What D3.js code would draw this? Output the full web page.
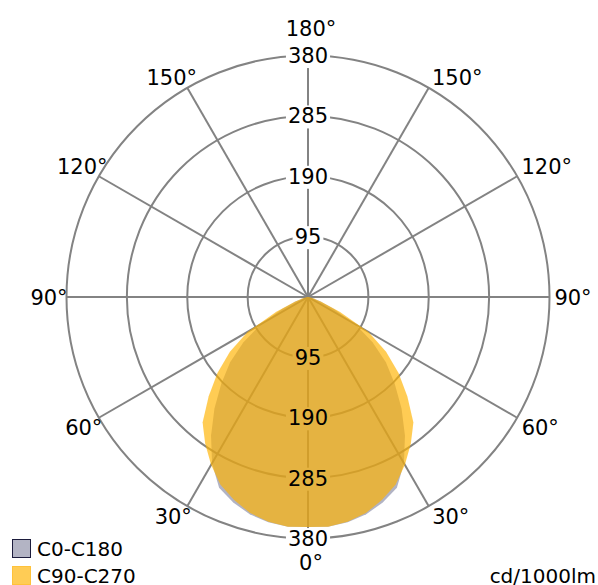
<!DOCTYPE html>
<html>
<head>
<meta charset="utf-8">
<script src="https://cdn.jsdelivr.net/npm/d3@7"></script>
<style>
body { margin: 0; background: #fff; }
text { font-family: "DejaVu Sans", sans-serif; font-size: 21px; fill: #000; }
text.small { font-size: 20px; }
</style>
</head>
<body>
<script>
// gamma angles (deg from nadir) and intensities in cd/1000lm
var gammas   = [0, 5, 10, 15, 20, 25, 30, 35, 40, 45, 50, 55, 60, 65, 70, 75, 80, 85, 90];
var c0c180   = [362, 363, 360, 354, 344, 331, 302, 266, 229, 193, 160, 124, 86, 45, 20, 8, 3, 1, 0];
var c90c270  = [362, 363, 359, 352, 340, 326, 305, 282, 258, 221, 186, 150, 110, 55, 22, 8, 3, 1, 0];
var ringValues  = [95, 190, 285, 380];
var angleLabels = [0, 30, 60, 90, 120, 150, 180];
var seriesNames = ["C0-C180", "C90-C270"];

var W = 598, H = 585;
var cx = 308, cy = 297, R = 241.5;

var svg = d3.select("body").append("svg")
  .attr("width", W)
  .attr("height", H);

var r = d3.scaleLinear().domain([0, 380]).range([0, R]);

var g = svg.append("g").attr("transform", "translate(" + cx + "," + cy + ")");

// rings
g.selectAll("circle.ring")
  .data(ringValues)
  .enter().append("circle")
  .attr("class", "ring")
  .attr("r", function(d) { return r(d); })
  .attr("fill", "none")
  .attr("stroke", "#838383")
  .attr("stroke-width", 2);

// spokes every 30 deg
var spokes = d3.range(0, 360, 30);
g.selectAll("line.spoke")
  .data(spokes)
  .enter().append("line")
  .attr("class", "spoke")
  .attr("x1", 0).attr("y1", 0)
  .attr("x2", function(d) { return R * Math.sin(d * Math.PI / 180); })
  .attr("y2", function(d) { return R * Math.cos(d * Math.PI / 180); })
  .attr("stroke", "#838383")
  .attr("stroke-width", 2);

// value labels above and below centre
var valLabels = [];
ringValues.forEach(function(v) {
  valLabels.push({ v: v, y: -r(v) });
  valLabels.push({ v: v, y: r(v) });
});

var bgLayer = g.append("g");
var shapeLayer = g.append("g");
var textLayer = g.append("g");

var vt = textLayer.selectAll("text.val")
  .data(valLabels)
  .enter().append("text")
  .attr("class", "val")
  .attr("x", 0)
  .attr("y", function(d) { return d.y; })
  .attr("dy", "0.36em")
  .attr("text-anchor", "middle")
  .text(function(d) { return d.v; });

vt.each(function(d) {
  var b = this.getBBox();
  bgLayer.append("rect")
    .attr("x", b.x - 2).attr("y", b.y + 1)
    .attr("width", b.width + 4).attr("height", b.height - 1)
    .attr("fill", "#fff");
});

// polar curves
function pts(vals) {
  var out = [];
  for (var i = gammas.length - 1; i > 0; i--) {
    out.push({ a: Math.PI + gammas[i] * Math.PI / 180, v: vals[i] });
  }
  for (var j = 0; j < gammas.length; j++) {
    out.push({ a: Math.PI - gammas[j] * Math.PI / 180, v: vals[j] });
  }
  return out;
}

var radial = d3.lineRadial()
  .angle(function(d) { return d.a; })
  .radius(function(d) { return r(d.v); })
  .curve(d3.curveLinearClosed);

shapeLayer.append("path")
  .attr("d", radial(pts(c0c180)))
  .attr("fill", "rgb(100,104,138)")
  .attr("fill-opacity", 0.5);

shapeLayer.append("path")
  .attr("d", radial(pts(c90c270)))
  .attr("fill", "rgb(255,179,0)")
  .attr("fill-opacity", 0.67);

// angle labels, pushed outside the circle by half their box
var angPos = [];
angleLabels.forEach(function(a) {
  var rad = a * Math.PI / 180;
  var s = Math.sin(rad), c = Math.cos(rad);
  if (a === 0) { angPos.push({ a: a, x: 3, y: 265 }); return; }
  if (a === 180) { angPos.push({ a: a, x: 3, y: -269 }); return; }
  var three = String(a).length === 3;
  var hw = three ? 24 : 17.5, hh = 8;
  var hwL = three ? 17 : 15.5;
  if (a === 90) hwL = 17.5;
  var sy = Math.abs(c) < 1e-6 ? 0 : (c > 0 ? 1 : -1);
  var py = (R + 3) * c + hh * sy;
  angPos.push({ a: a, x: (R + 3) * s + hw + 3, y: py });
  angPos.push({ a: a, x: -(R + 3) * s - hwL + 3, y: py });
});

textLayer.selectAll("text.ang")
  .data(angPos)
  .enter().append("text")
  .attr("class", "ang")
  .attr("x", function(d) { return d.x; })
  .attr("y", function(d) { return d.y; })
  .attr("dy", "0.36em")
  .attr("text-anchor", "middle")
  .text(function(d) { return d.a + "°"; });

// legend
var legColors = [
  { fill: "#b3b4c4", stroke: "#1c1c3c" },
  { fill: "#ffcc55", stroke: "#ffc23a" }
];
var leg = svg.selectAll("g.leg")
  .data(seriesNames)
  .enter().append("g")
  .attr("class", "leg")
  .attr("transform", function(d, i) { return "translate(12," + (539 + i * 27) + ")"; });

leg.append("rect")
  .attr("x", 0.5).attr("y", 0.5)
  .attr("width", 18).attr("height", 18)
  .attr("fill", function(d, i) { return legColors[i].fill; })
  .attr("stroke", function(d, i) { return legColors[i].stroke; });

leg.append("text")
  .attr("class", "small")
  .attr("x", 25)
  .attr("y", 17)
  .text(function(d) { return d; });

svg.append("text")
  .attr("class", "small")
  .attr("x", 596)
  .attr("y", 583)
  .attr("text-anchor", "end")
  .text("cd/1000lm");
</script>
</body>
</html>
